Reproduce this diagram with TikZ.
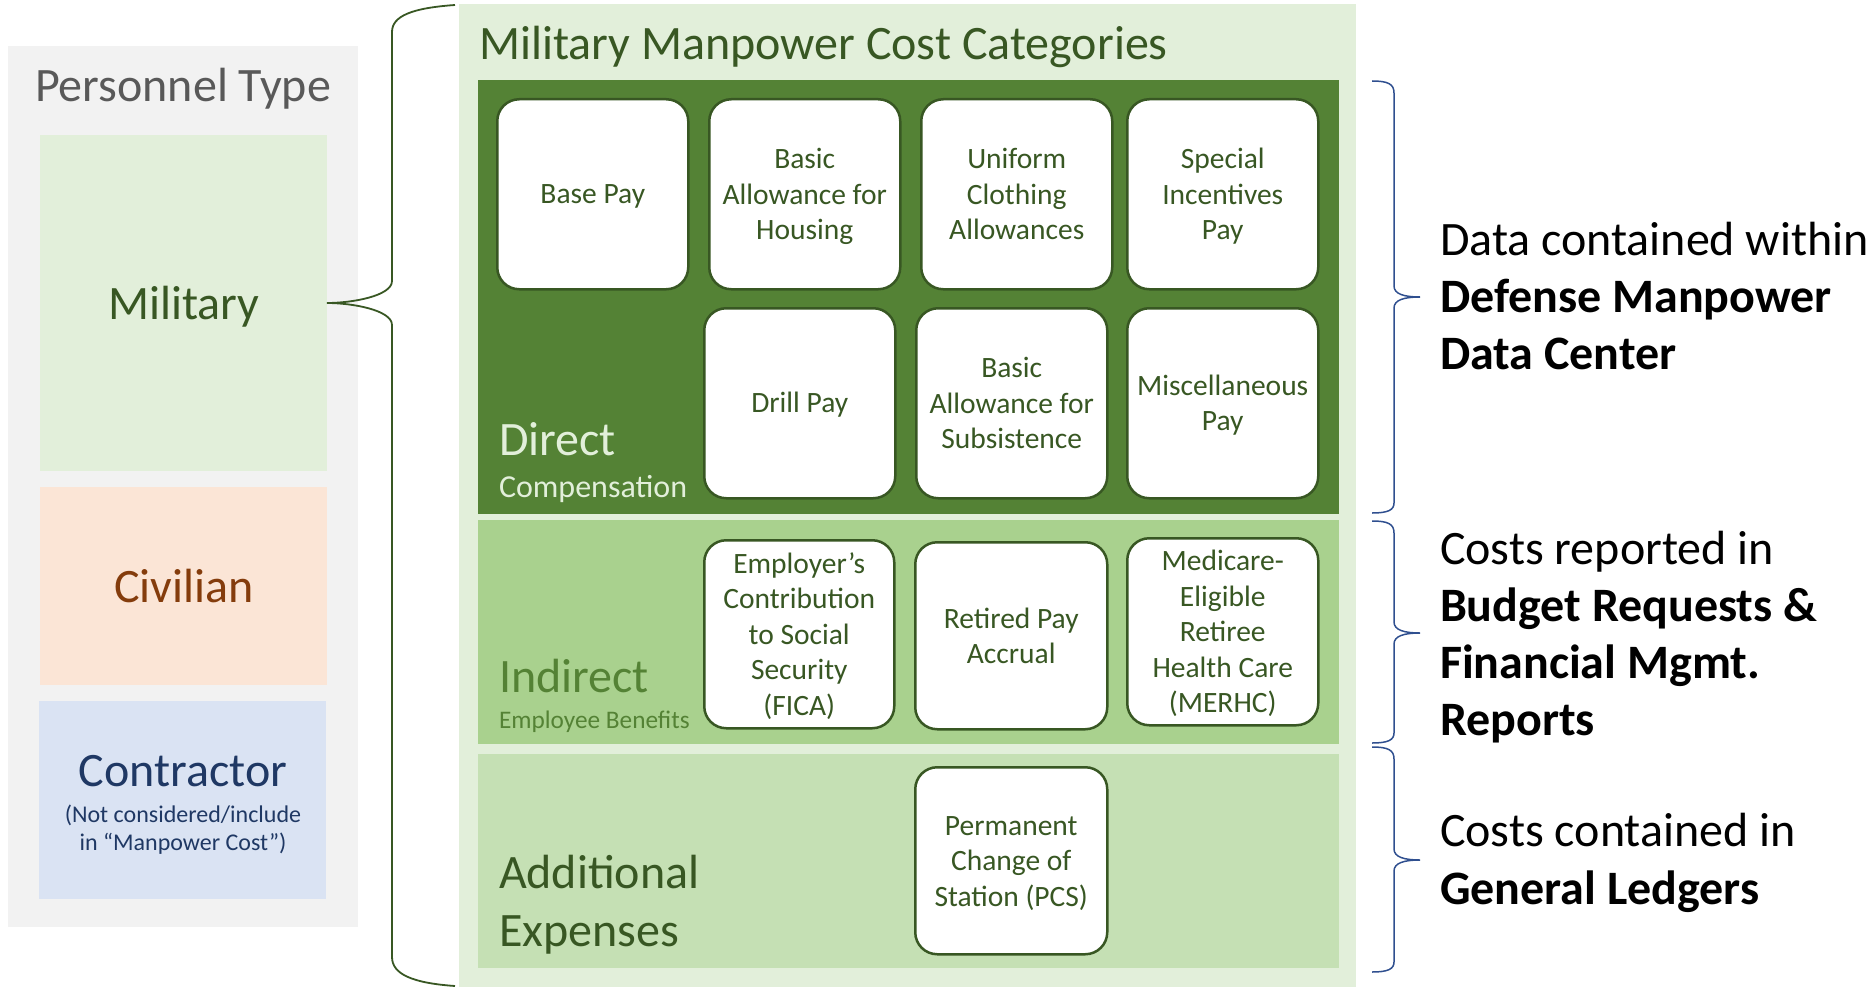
\documentclass[tikz,border=0pt]{standalone}
\usepackage{fontspec}
\setmainfont{Carlito}
\usetikzlibrary{calc}
\definecolor{greybg}{HTML}{F2F2F2}
\definecolor{greytxt}{HTML}{595959}
\definecolor{milbg}{HTML}{E2EFDA}
\definecolor{civbg}{HTML}{FBE5D6}
\definecolor{conbg}{HTML}{DAE3F3}
\definecolor{dkgreen}{HTML}{385723}
\definecolor{midgreen}{HTML}{548235}
\definecolor{indbg}{HTML}{A9D18E}
\definecolor{addbg}{HTML}{C5E0B4}
\definecolor{brown}{HTML}{843C0C}
\definecolor{navy}{HTML}{1F3864}
\definecolor{bracenavy}{HTML}{2F4F8F}
\newcommand\bigtxt{\fontsize{48}{57.5}\selectfont}
\newcommand\boxtxt{\fontsize{29.5}{35.4}\selectfont}
\newcommand\smalltxt{\fontsize{24}{28.5}\selectfont}
\newcommand\benefittxt{\fontsize{25.3}{30}\selectfont}
\newcommand\comptxt{\fontsize{32}{38}\selectfont}
\newcommand\topr{\rule{0pt}{27.5pt}}
\newcommand\botr{\rule[-7.5pt]{0pt}{7.5pt}}
\begin{document}
\begin{tikzpicture}[x=1pt,y=-1pt,
  panel/.style={draw=none, inner sep=0pt, outer sep=0pt, anchor=north west},
  costbox/.style={draw=dkgreen, line width=2.5pt, fill=white, rounded corners=22pt,
    inner sep=0pt, text=dkgreen, font=\boxtxt, align=center, anchor=north west},
  lbl/.style={inner sep=0pt, outer sep=0pt},
  lbracestyle/.style={draw=dkgreen, line width=1.8pt},
  rbracestyle/.style={draw=bracenavy, line width=1.5pt}
]
\useasboundingbox (0,0) rectangle (1874,987);

% ---------------- Personnel type panel ----------------
\node[panel, fill=greybg, minimum width=350pt, minimum height=881pt] (ptype) at (8,46) {};
\node[lbl, anchor=base, text=greytxt, font=\bigtxt] (ptitle) at (183,102) {Personnel Type};
\node[panel, fill=milbg, minimum width=287pt, minimum height=336pt] (mil) at (40,135) {};
\node[lbl, anchor=base, text=dkgreen, font=\bigtxt] (miltxt) at (184,319) {Military};
\node[panel, fill=civbg, minimum width=287pt, minimum height=198pt] (civ) at (40,487) {};
\node[lbl, anchor=base, text=brown, font=\bigtxt] (civtxt) at (184,602) {Civilian};
\node[panel, fill=conbg, minimum width=287pt, minimum height=198pt] (con) at (39,701) {};
\node[lbl, anchor=base, text=navy, font=\bigtxt] (contxt) at (183,786) {Contractor};
\node[lbl, anchor=base, text=navy, font=\smalltxt] (consub1) at (183,822) {(Not considered/include};
\node[lbl, anchor=base, text=navy, font=\smalltxt] (consub2) at (183,850) {in “Manpower Cost”)};

% ---------------- Left brace ----------------
\coordinate (lbtop) at (455,5);
\coordinate (lbbot) at (455,986);
\draw[lbracestyle] (lbtop) .. controls (412,8) and (392,16) .. (392,32)
  -- (392,281) .. controls (392,296) and (352,303) .. (mil.east)
  .. controls (352,303) and (392,310) .. (392,325)
  -- (392,957) .. controls (392,974) and (412,983) .. (lbbot);

% ---------------- Cost categories panel ----------------
\node[panel, fill=milbg, minimum width=897pt, minimum height=983pt] (cats) at (459,4) {};
\node[lbl, anchor=base west, text=dkgreen, font=\bigtxt] (catstitle) at (479,60) {Military Manpower Cost Categories};

\node[panel, fill=midgreen, minimum width=861pt, minimum height=434pt] (direct) at (478,80) {};
\node[panel, fill=indbg, minimum width=861pt, minimum height=224pt] (indirect) at (478,520) {};
\node[panel, fill=addbg, minimum width=861pt, minimum height=214pt] (addl) at (478,754) {};

\node[lbl, anchor=base west, text=milbg, font=\bigtxt] (dirtxt) at (499,455) {Direct};
\node[lbl, anchor=base west, text=milbg, font=\comptxt] (dirsub) at (499,497) {Compensation};
\node[lbl, anchor=base west, text=midgreen, font=\bigtxt] (indtxt) at (499,692) {Indirect};
\node[lbl, anchor=base west, text=midgreen, font=\benefittxt] (indsub) at (499,728) {Employee Benefits};
\node[lbl, anchor=base west, text=dkgreen, font=\bigtxt] (addtxt1) at (499,888) {Additional};
\node[lbl, anchor=base west, text=dkgreen, font=\bigtxt] (addtxt2) at (499,946) {Expenses};

% Direct compensation boxes
\node[costbox, minimum width=191pt, minimum height=190pt] (basepay) at (496,98) {\rule{0pt}{26pt}Base Pay\rule[-7pt]{0pt}{7pt}};
\node[costbox, minimum width=191pt, minimum height=190pt] (bah) at (708,98) {\topr Basic\\Allowance for\\Housing\botr};
\node[costbox, minimum width=191pt, minimum height=190pt] (uniform) at (920,98) {\topr Uniform\\Clothing\\Allowances\botr};
\node[costbox, minimum width=191pt, minimum height=190pt] (special) at (1126,98) {\topr Special\\Incentives\\Pay\botr};
\node[costbox, minimum width=191pt, minimum height=190pt] (drill) at (703,307) {\rule{0pt}{26pt}Drill Pay\rule[-7pt]{0pt}{7pt}};
\node[costbox, minimum width=191pt, minimum height=190pt] (bas) at (915,307) {\topr Basic\\Allowance for\\Subsistence\botr};
\node[costbox, minimum width=191pt, minimum height=190pt] (misc) at (1126,307) {\topr Miscellaneous\\Pay\botr};

% Indirect boxes
\node[costbox, minimum width=190pt, minimum height=188pt] (fica) at (703,539) {\topr Employer’s\\Contribution\\to Social\\Security\\(FICA)\botr};
\node[costbox, minimum width=192pt, minimum height=187pt] (retired) at (914,541) {\topr Retired Pay\\Accrual\botr};
\node[costbox, minimum width=191pt, minimum height=187pt] (merhc) at (1126,537) {\topr Medicare-\\Eligible\\Retiree\\Health Care\\(MERHC)\botr};

% Additional box
\node[costbox, minimum width=192pt, minimum height=187pt] (pcs) at (914,766) {\topr Permanent\\Change of\\Station (PCS)\botr};

% ---------------- Right braces ----------------
\coordinate (rb1tip) at (1420,297);
\coordinate (rb2tip) at (1420,633);
\coordinate (rb3tip) at (1420,860);
\draw[rbracestyle] (1372,81) .. controls (1388,81) and (1394,84) .. (1394,93)
  -- (1394,286) .. controls (1394,294) and (1404,297) .. (rb1tip)
  .. controls (1404,297) and (1394,300) .. (1394,308)
  -- (1394,503) .. controls (1394,510) and (1388,513) .. (1372,513);
\draw[rbracestyle] (1372,521) .. controls (1388,521) and (1394,524) .. (1394,533)
  -- (1394,622) .. controls (1394,630) and (1404,633) .. (rb2tip)
  .. controls (1404,633) and (1394,636) .. (1394,644)
  -- (1394,733) .. controls (1394,740) and (1388,743) .. (1372,743);
\draw[rbracestyle] (1372,747) .. controls (1388,747) and (1394,750) .. (1394,759)
  -- (1394,849) .. controls (1394,857) and (1404,860) .. (rb3tip)
  .. controls (1404,860) and (1394,863) .. (1394,871)
  -- (1394,962) .. controls (1394,969) and (1388,972) .. (1372,972);

% ---------------- Right texts ----------------
\node[lbl, anchor=base west, font=\bigtxt] (r1a) at (1440,255) {Data contained within};
\node[lbl, anchor=base west, font=\bigtxt\bfseries] (r1b) at (1440,312) {Defense Manpower};
\node[lbl, anchor=base west, font=\bigtxt\bfseries] (r1c) at (1440,369) {Data Center};
\node[lbl, anchor=base west, font=\bigtxt] (r2a) at (1440,564) {Costs reported in};
\node[lbl, anchor=base west, font=\bigtxt\bfseries] (r2b) at (1440,621) {Budget Requests \&};
\node[lbl, anchor=base west, font=\bigtxt\bfseries] (r2c) at (1440,678) {Financial Mgmt.};
\node[lbl, anchor=base west, font=\bigtxt\bfseries] (r2d) at (1440,735) {Reports};
\node[lbl, anchor=base west, font=\bigtxt] (r3a) at (1440,846) {Costs contained in};
\node[lbl, anchor=base west, font=\bigtxt\bfseries] (r3b) at (1440,904) {General Ledgers};
\end{tikzpicture}
\end{document}
